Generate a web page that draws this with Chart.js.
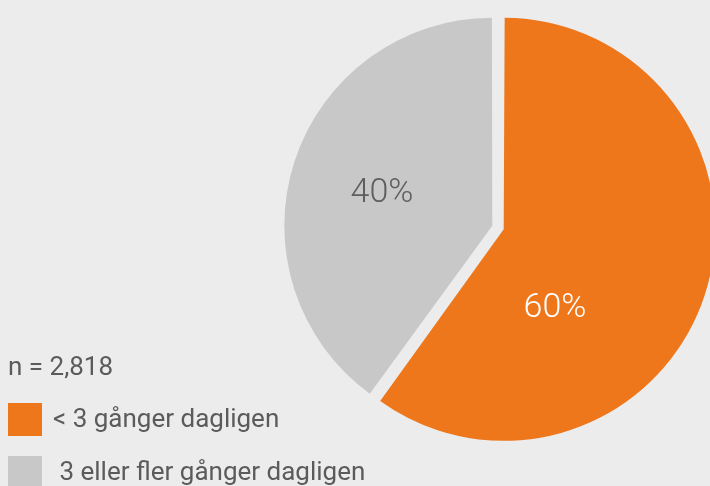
<!DOCTYPE html>
<html>
<head>
<meta charset="utf-8">
<script src="https://cdn.jsdelivr.net/npm/chart.js@4.4.1/dist/chart.umd.min.js"></script>
<style>
    html, body { margin: 0; padding: 0; background: #ececec; overflow: hidden; }
    #wrap { position: relative; width: 710px; height: 486px; font-family: Roboto, sans-serif; color: #5b5b5b; }
    #pie { position: absolute; left: 0; top: 0; }
    .note { position: absolute; left: 8px; top: 353px; font-size: 26px; line-height: 26px; }
    .item { position: absolute; left: 8px; height: 34px; }
    .item .swatch { position: absolute; left: 0; top: 0; width: 34px; height: 33px; }
    .item .txt { position: absolute; left: 45px; top: 2px; font-size: 26px; line-height: 26px; white-space: pre; }
</style>
</head>
<body>
<div id="wrap">
    <canvas id="pie" width="710" height="486"></canvas>
    <div class="note" id="note"></div>
    <div id="legend"></div>
</div>
<script>
const categories = ['< 3 gånger dagligen', ' 3 eller fler gånger dagligen'];
const shares = [60, 40];
const sliceColors = ['#ee771c', '#c8c8c8'];
const labelColors = ['#ffffff', '#5e5e5e'];
const sampleNote = 'n = 2,818';

document.getElementById('note').textContent = sampleNote;

// legend rows, stacked below the note
const legend = document.getElementById('legend');
const rowTops = [403, 456];
categories.forEach((name, i) => {
    const row = document.createElement('div');
    row.className = 'item';
    row.style.top = rowTops[i] + 'px';
    row.innerHTML = `<div class="swatch" style="background:${sliceColors[i]}"></div><div class="txt"></div>`;
    row.querySelector('.txt').textContent = name;
    legend.appendChild(row);
});

// percentage text inside each slice (angle clockwise from 12 o'clock, distance from pie centre)
const sliceLabels = {
    id: 'sliceLabels',
    afterDatasetsDraw(chart, args, opts) {
        const ctx = chart.ctx;
        const arcs = chart.getDatasetMeta(0).data;
        ctx.save();
        ctx.font = '300 34px Roboto, sans-serif';
        ctx.textAlign = 'center';
        ctx.textBaseline = 'middle';
        arcs.forEach((arc, i) => {
            const place = opts.placement[i];
            const a = place.angle * Math.PI / 180;
            const x = arc.x + Math.sin(a) * place.dist;
            const y = arc.y - Math.cos(a) * place.dist;
            ctx.fillStyle = labelColors[i];
            ctx.fillText(shares[i] + '%', x, y);
        });
        ctx.restore();
    }
};

new Chart(document.getElementById('pie'), {
    type: 'pie',
    data: {
        labels: categories,
        datasets: [{
            data: shares,
            backgroundColor: sliceColors,
            borderWidth: 0,
            // both slices pulled apart from the centre
            offset: 24,
            clip: false
        }]
    },
    options: {
        responsive: false,
        animation: false,
        radius: 205.5,
        layout: { padding: { left: 286, right: 0, top: 0, bottom: 31 } },
        plugins: {
            legend: { display: false },
            tooltip: { enabled: false },
            sliceLabels: {
                placement: [{ angle: 144.8, dist: 98.8 }, { angle: 286.3, dist: 120.9 }]
            }
        }
    },
    plugins: [sliceLabels]
});
</script>
</body>
</html>
